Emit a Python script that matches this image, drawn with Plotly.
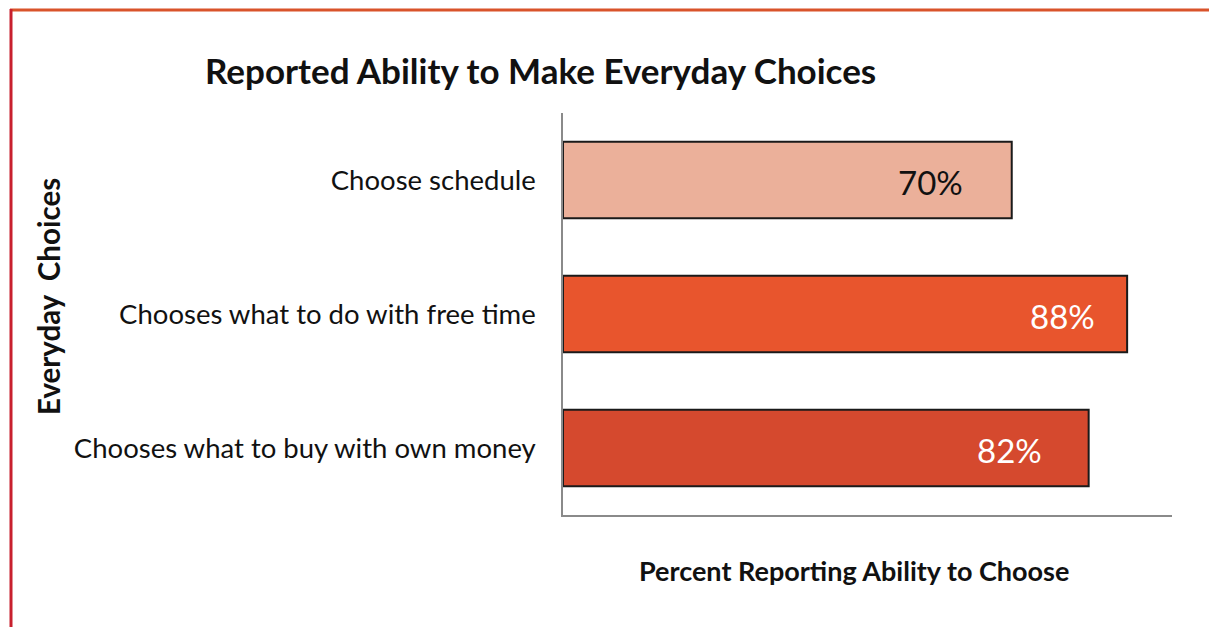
import plotly.graph_objects as go

categories = ["Choose schedule", "Chooses what to do with free time", "Chooses what to buy with own money"]
values = [70, 88, 82]
labels = ["70%", "88%", "82%"]
bar_colors = ["#EBB09A", "#E8552D", "#D5492E"]
label_colors = ["#111111", "#FFFFFF", "#FFFFFF"]
label_shift = [-47, -30, -45]

fig = go.Figure()
fig.add_trace(go.Bar(
    y=categories, x=values, orientation="h",
    marker=dict(color=bar_colors, line=dict(color="#1a1a1a", width=2)),
    width=0.57, hoverinfo="skip",
))

for c, v, t, col, s in zip(categories, values, labels, label_colors, label_shift):
    fig.add_annotation(x=v, y=c, xref="x", yref="y", text=t, showarrow=False,
                       xanchor="right", xshift=s, yshift=-2,
                       font=dict(family="Lato", size=33, color=col))

W, H = 1209, 627
L, R, T, B = 563, 37, 113, 112
pw, ph = W - L - R, H - T - B

def px(xp):
    return (xp - L) / pw

def py(yp):
    return (H - B - yp) / ph

fig.add_annotation(x=px(540), y=py(70), xref="paper", yref="paper",
                   text="<b>Reported Ability to Make Everyday Choices</b>", showarrow=False,
                   xanchor="center", yanchor="middle",
                   font=dict(family="Lato", size=35, color="#111111"))
fig.add_annotation(x=px(854), y=py(570), xref="paper", yref="paper",
                   text="<b>Percent Reporting Ability to Choose</b>", showarrow=False,
                   xanchor="center", yanchor="middle",
                   font=dict(family="Lato", size=27, color="#111111"))
fig.add_annotation(x=px(48), y=py(297), xref="paper", yref="paper",
                   text="<b>Everyday  Choices</b>", showarrow=False, textangle=-90,
                   xanchor="center", yanchor="middle",
                   font=dict(family="Lato", size=29.5, color="#111111"))

# page border (scan frame)
fig.add_shape(type="line", xref="paper", yref="paper", x0=px(10), x1=px(1209), y0=py(10), y1=py(10),
              line=dict(color="#D9532B", width=3))
fig.add_shape(type="line", xref="paper", yref="paper", x0=px(11), x1=px(11), y0=py(9), y1=py(627),
              line=dict(color="#C8202E", width=3))

fig.update_layout(
    width=W, height=H,
    margin=dict(l=L, r=R, t=T, b=B),
    paper_bgcolor="white", plot_bgcolor="white",
    showlegend=False,
    font=dict(family="Lato", color="#111111"),
)
fig.update_xaxes(range=[0, 95], showticklabels=False, showgrid=False, zeroline=False,
                 showline=True, linecolor="#8a8a8a", linewidth=1.5, ticks="")
fig.update_yaxes(autorange="reversed", showgrid=False, zeroline=False,
                 showline=True, linecolor="#8a8a8a", linewidth=1.5, ticks="",
                 ticklabelstandoff=20, tickfont=dict(family="Lato", size=27.5, color="#111111"))

fig.write_html("out.html", config={"displayModeBar": False},
               post_script="document.body.style.margin='0';document.body.style.overflow='hidden';")
